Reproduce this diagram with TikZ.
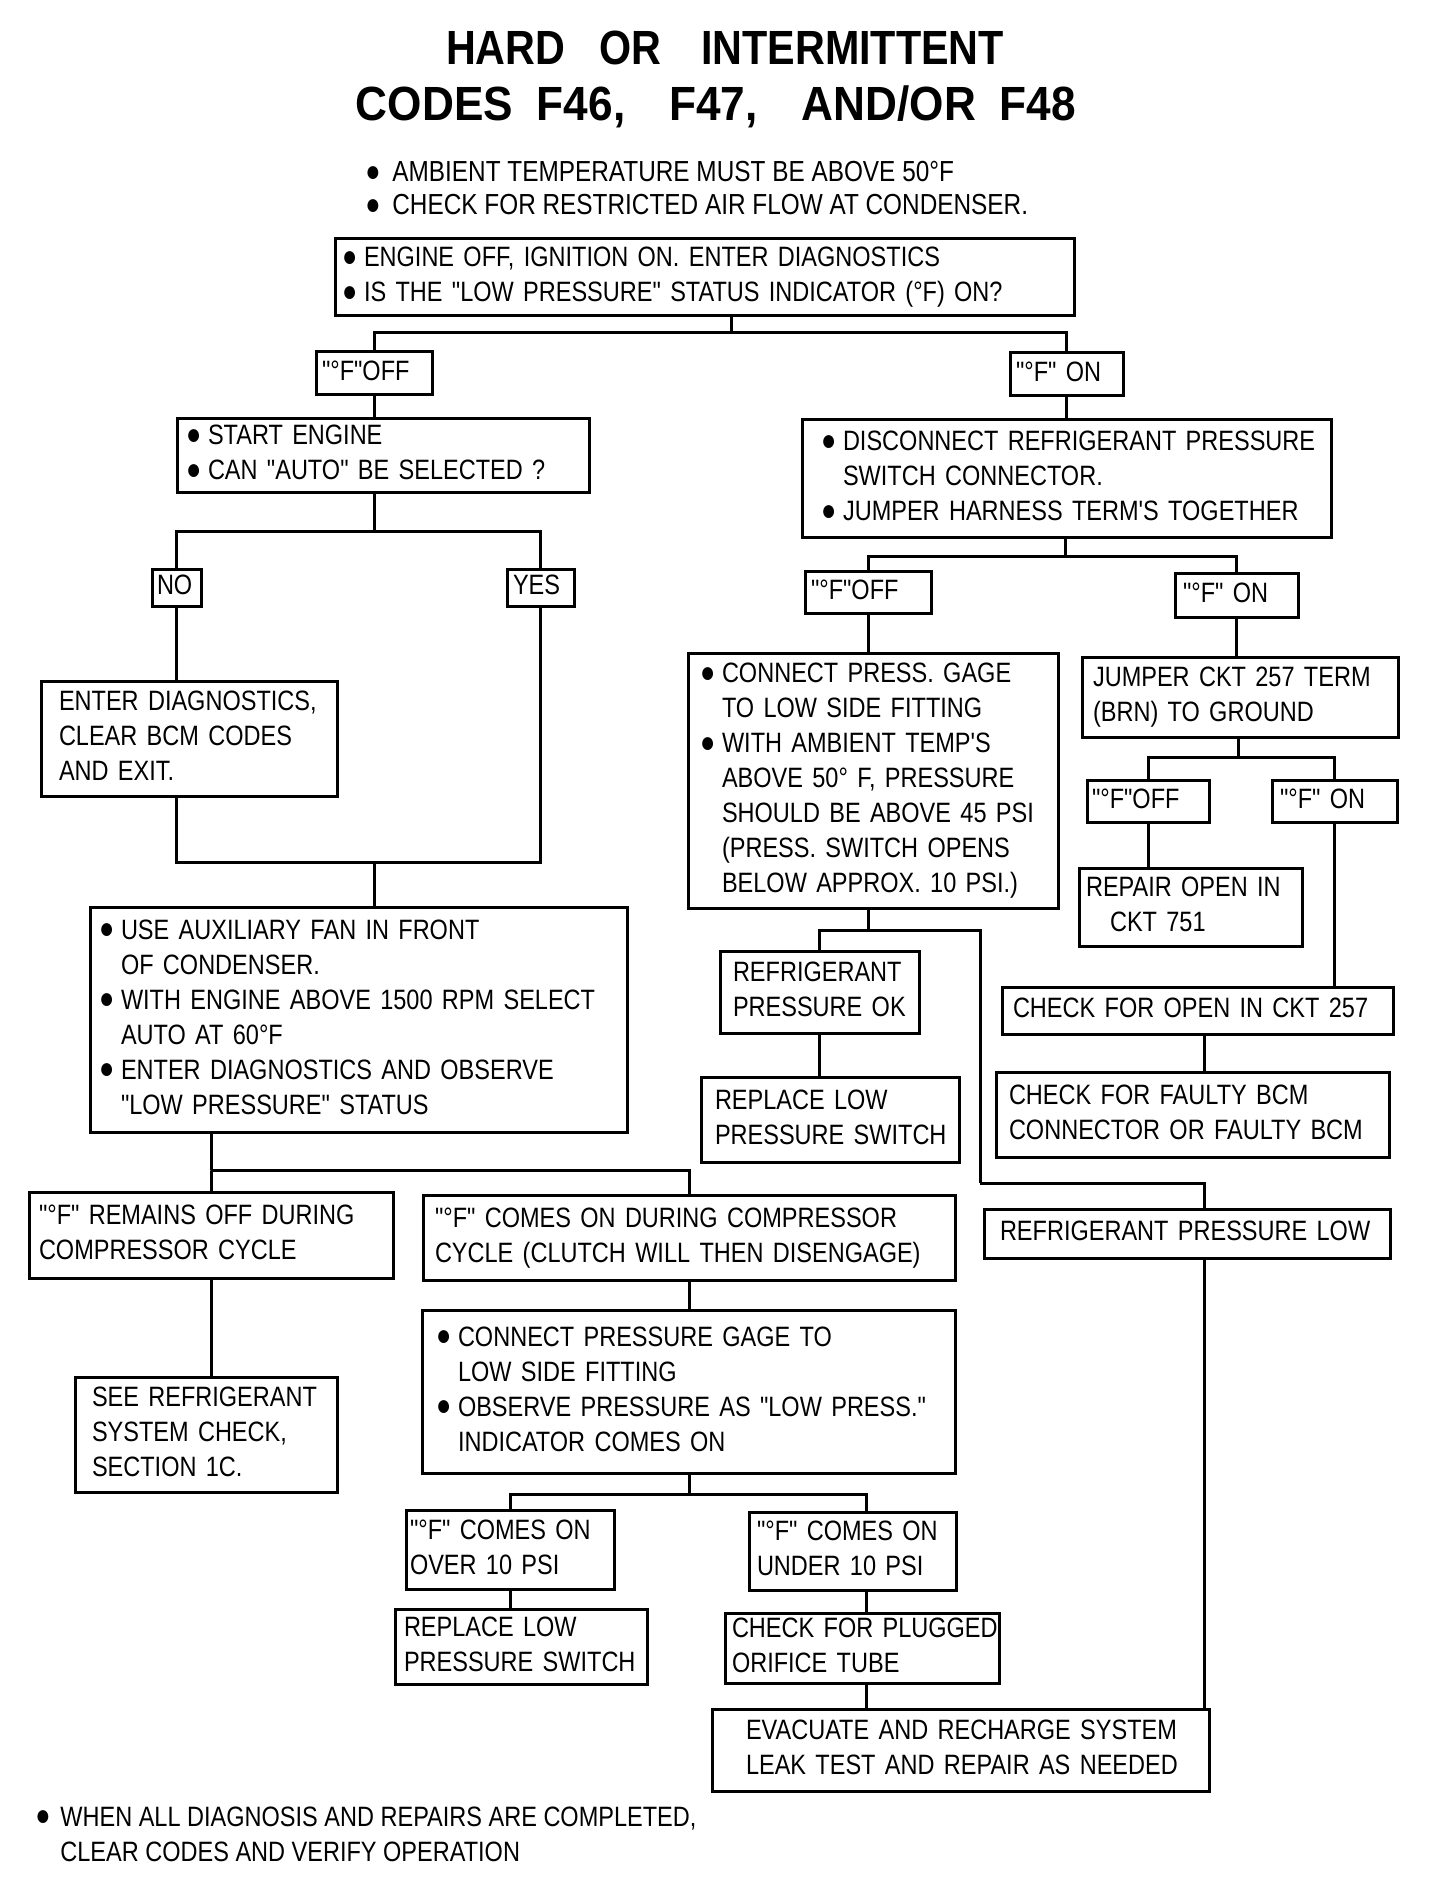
\documentclass[tikz,border=0pt]{standalone}
\usepackage{fontspec}
\setmainfont{Liberation Sans}[FakeStretch=0.84, Ligatures=TeXOff]
\newfontfamily\ttlfont{Liberation Sans}[FakeStretch=0.86]
\newfontfamily\ttlfontw{Liberation Sans}[FakeStretch=0.92]
\usetikzlibrary{calc}
\newcommand\dotb{\raisebox{0.2bp}{\fontsize{15bp}{15bp}\selectfont ●}}
\newcommand\bu{\makebox[11bp][l]{\dotb}}
\newcommand\ii{\hspace*{11bp}}
\newcommand\tb[1]{\begin{tabular}{@{}l@{}}#1\end{tabular}}
\newcommand\tbt[1]{\begin{tabular}[t]{@{}l@{}}#1\end{tabular}}
\tikzset{
  box/.style={draw, line width=1.5bp, rectangle, anchor=north west, inner ysep=0pt,
    outer sep=0pt, align=left, font=\fontsize{14bp}{17.5bp}\selectfont},
  conn/.style={line width=1.5bp},
}
% \bx[pad]{name}{x1}{y1}{x2}{y2}{text}
\newcommand\bx[7][12]{%
  \pgfmathsetmacro\bw{(#5-#3)*0.5}%
  \pgfmathsetmacro\bh{(#6-#4)*0.5}%
  \pgfmathsetmacro\bp{#1*0.5}%
  \pgfmathsetmacro\tw{\bw-2*\bp}%
  \node[box, inner xsep=\bp bp, minimum width=\bw bp, minimum height=\bh bp, text width=\tw bp] (#2) at (#3,#4) {\tb{#7}};}
\begin{document}
\begin{tikzpicture}[x=0.5bp,y=-0.5bp]
\useasboundingbox (0,0) rectangle (1440,1902);
\fill[white] (0,0) rectangle (1440,1902);
% title
\node[anchor=base, font=\fontsize{24bp}{28bp}\ttlfont\bfseries] (t1) at (725,65)
  {HARD\hspace{17bp}OR\hspace{20bp}INTERMITTENT};
\node[anchor=base, font=\fontsize{24bp}{28bp}\ttlfontw\bfseries] (t2) at (716,121)
  {CODES\hspace{12bp}F46,\hspace{22bp}F47,\hspace{22bp}AND/OR\hspace{12bp}F48};
% header
\node[anchor=base west, inner sep=0pt, align=left, font=\fontsize{14.5bp}{16.5bp}\selectfont] (hdr) at (365,182)
  {\tbt{\makebox[13.5bp][l]{\dotb}AMBIENT TEMPERATURE MUST BE ABOVE 50°F\\
        \makebox[13.5bp][l]{\dotb}CHECK FOR RESTRICTED AIR FLOW AT CONDENSER.}};
% boxes
\bx[7]{main}{335}{239}{1074}{316}{\renewcommand\arraystretch{0.94}%
  \bu ENGINE OFF, IGNITION ON. ENTER DIAGNOSTICS\\
  \bu IS THE "LOW PRESSURE" STATUS INDICATOR (°F) ON?}
\bx[6]{lab1}{316}{352}{432}{395}{"°F"OFF}
\bx[6]{lab2}{1010}{353}{1123}{396}{"°F" ON}
\bx[9]{start}{177}{419}{589}{492}{\bu START ENGINE\\ \bu CAN "AUTO" BE SELECTED ?}
\bx[5]{no}{152}{569}{201}{606}{NO}
\bx[6]{yes}{507}{569}{574}{606}{YES}
\bx[18]{enter}{41}{681}{337}{796}{ENTER DIAGNOSTICS,\\ CLEAR BCM CODES\\ AND EXIT.}
\bx[9]{aux}{90}{907}{627}{1132}{\renewcommand\arraystretch{1.03}%
  \bu USE AUXILIARY FAN IN FRONT\\ \ii OF CONDENSER.\\
  \bu WITH ENGINE ABOVE 1500 RPM SELECT\\ \ii AUTO AT 60°F\\
  \bu ENTER DIAGNOSTICS AND OBSERVE\\ \ii "LOW PRESSURE" STATUS}
\bx[10]{remain}{29}{1192}{393}{1278}{"°F" REMAINS OFF DURING\\ COMPRESSOR CYCLE}
\bx[12]{comes}{423}{1195}{955}{1280}{"°F" COMES ON DURING COMPRESSOR\\ CYCLE (CLUTCH WILL THEN DISENGAGE)}
\bx[17]{see}{75}{1377}{337}{1492}{SEE REFRIGERANT\\ SYSTEM CHECK,\\ SECTION 1C.}
\bx[14]{gage2}{422}{1310}{955}{1473}{\renewcommand\arraystretch{1.03}%
  \bu CONNECT PRESSURE GAGE TO\\ \ii LOW SIDE FITTING\\
  \bu OBSERVE PRESSURE AS "LOW PRESS."\\ \ii INDICATOR COMES ON}
\bx[4]{over}{406}{1510}{614}{1589}{"°F" COMES ON\\ OVER 10 PSI}
\bx[8]{under}{749}{1512}{956}{1590}{"°F" COMES ON\\ UNDER 10 PSI}
\bx[9]{repl2}{395}{1609}{647}{1684}{REPLACE LOW\\ PRESSURE SWITCH}
\bx[7]{plug}{725}{1613}{999}{1683}{CHECK FOR PLUGGED\\ ORIFICE TUBE}
\bx[34]{evac}{712}{1709}{1209}{1791}{EVACUATE AND RECHARGE SYSTEM\\ LEAK TEST AND REPAIR AS NEEDED}
\bx[19]{disc}{802}{420}{1331}{537}{\bu DISCONNECT REFRIGERANT PRESSURE\\ \ii SWITCH CONNECTOR.\\
  \bu JUMPER HARNESS TERM'S TOGETHER}
\bx[6]{lab3}{805}{571}{931}{613}{"°F"OFF}
\bx[8]{lab4}{1175}{573}{1298}{617}{"°F" ON}
\bx[12]{gage1}{688}{653}{1058}{908}{\renewcommand\arraystretch{1.01}%
  \bu CONNECT PRESS. GAGE\\ \ii TO LOW SIDE FITTING\\
  \bu WITH AMBIENT TEMP'S\\ \ii ABOVE 50° F, PRESSURE\\ \ii SHOULD BE ABOVE 45 PSI\\
  \ii (PRESS. SWITCH OPENS\\ \ii BELOW APPROX. 10 PSI.)}
\bx[11]{jump}{1082}{657}{1398}{737}{JUMPER CKT 257 TERM\\ (BRN) TO GROUND}
\bx[5]{lab5}{1087}{780}{1209}{822}{"°F"OFF}
\bx[8]{lab6}{1272}{780}{1397}{822}{"°F" ON}
\bx[7]{repair}{1079}{868}{1302}{946}{REPAIR OPEN IN\\ \hspace*{12bp}CKT 751}
\bx[13]{okb}{720}{951}{919}{1033}{REFRIGERANT\\ PRESSURE OK}
\bx[14]{repl1}{701}{1077}{959}{1162}{REPLACE LOW\\ PRESSURE SWITCH}
\bx[11]{open}{1002}{987}{1393}{1034}{CHECK FOR OPEN IN CKT 257}
\bx[13]{faulty}{996}{1072}{1389}{1157}{CHECK FOR FAULTY BCM\\ CONNECTOR OR FAULTY BCM}
\bx[16]{low}{984}{1209}{1390}{1258}{REFRIGERANT PRESSURE LOW}
% footer
\node[anchor=base west, inner sep=0pt, align=left, font=\fontsize{14bp}{17.5bp}\selectfont] (ftr) at (35,1826)
  {\tbt{\makebox[12.5bp][l]{\dotb}WHEN ALL DIAGNOSIS AND REPAIRS ARE COMPLETED,\\
        \hspace*{12.5bp}CLEAR CODES AND VERIFY OPERATION}};
% junction coordinates
\coordinate (j1) at (731,333);
\coordinate (j2) at (374,532);
\coordinate (j3) at (374,862);
\coordinate (j4) at (211,1170);
\coordinate (j5) at (689,1494);
\coordinate (j6) at (1065,557);
\coordinate (j7) at (1238,757);
\coordinate (j8) at (868,930);
\coordinate (j9) at (980,1183);
\coordinate (rv) at (1204,0);
\coordinate (uv) at (866,0);
% connectors
\begin{scope}[conn]
\draw (j1 |- main.south) -- (j1);
\draw (lab1.north) |- (j1) -| (lab2.north);
\draw (lab1.south) -- (lab1.south |- start.north);
\draw (lab2.south) -- (lab2.south |- disc.north);
\draw (j2 |- start.south) -- (j2);
\draw (no.north) |- (j2) -| (yes.north);
\draw (no.south) -- (no.south |- enter.north);
\draw (no.south |- enter.south) |- (j3);
\draw (yes.south) |- (j3);
\draw (j3) -- (j3 |- aux.north);
\draw (j4 |- aux.south) -- (j4);
\draw (remain.north) |- (j4) -| (comes.north);
\draw (remain.south) -- (remain.south |- see.north);
\draw (comes.south) -- (comes.south |- gage2.north);
\draw (j5 |- gage2.south) -- (j5);
\draw (over.north) |- (j5) -| (uv |- under.north);
\draw (over.south) -- (over.south |- repl2.north);
\draw (uv |- under.south) -- (uv |- plug.north);
\draw (uv |- plug.south) -- (uv |- evac.north);
\draw (j6 |- disc.south) -- (j6);
\draw (lab3.north) |- (j6) -| (lab4.north);
\draw (lab3.south) -- (lab3.south |- gage1.north);
\draw (lab4.south) -- (lab4.south |- jump.north);
\draw (j7 |- jump.south) -- (j7);
\draw (lab5.north) |- (j7) -| (lab6.north);
\draw (lab5.south) -- (lab5.south |- repair.north);
\draw (lab6.south) -- (lab6.south |- open.north);
\draw (rv |- open.south) -- (rv |- faulty.north);
\draw (j8 |- gage1.south) -- (j8);
\draw (okb.north) |- (j8) -| (j9);
\draw (j9) -| (rv |- low.north);
\draw (okb.south) -- (okb.south |- repl1.north);
\draw (rv |- low.south) -- (rv |- evac.north);
\end{scope}
\end{tikzpicture}
\end{document}
